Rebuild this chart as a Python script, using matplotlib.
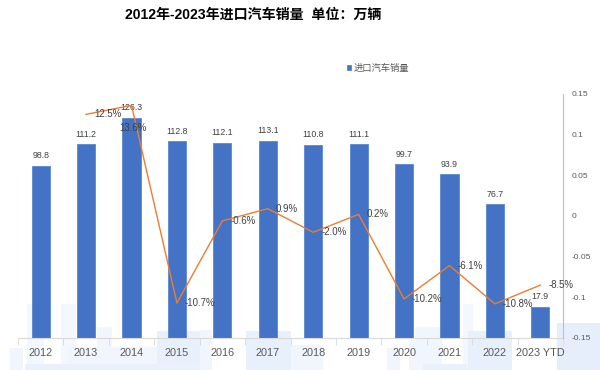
import numpy as np
import matplotlib
matplotlib.use('Agg')
import matplotlib.pyplot as plt
from matplotlib.patches import Rectangle
from matplotlib.ticker import FuncFormatter

plt.rcParams['font.family'] = ['Liberation Sans', 'Noto Sans CJK SC', 'DejaVu Sans']
plt.rcParams['axes.unicode_minus'] = False

# data
years = ['2012', '2013', '2014', '2015', '2016', '2017', '2018', '2019',
         '2020', '2021', '2022', '2023 YTD']
sales = [98.8, 111.2, 126.3, 112.8, 112.1, 113.1, 110.8, 111.1, 99.7, 93.9, 76.7, 17.9]
growth = [np.nan, 0.125, 0.136, -0.107, -0.006, 0.009, -0.020, 0.002,
          -0.102, -0.061, -0.108, -0.085]

bar_color = '#4472C4'
line_color = '#ED7D31'
text_color = '#404040'
axis_text = '#595959'

fig = plt.figure(figsize=(6, 3.7), dpi=100)

# faint background blocks (decoration at the bottom)
deco = [(27, 304, 44, '#f3f7fe'), (61, 304, 76, '#f3f7fe'), (97, 327, 112, '#f1f5fe'),
        (157, 331, 200, '#e8f0fc'), (10, 348, 23, '#f1f5fe'), (68, 347, 157, '#f1f5fe'),
        (25, 364, 200, '#eaf1fd'), (200, 330, 212, '#f1f5fe'), (246, 331, 291, '#e8f0fc'),
        (291, 345, 323, '#f1f5fe'), (387, 348, 400, '#f1f5fe'), (415, 327, 442, '#f1f5fe'),
        (463, 304, 473, '#f3f7fe'), (468, 331, 512, '#e8f0fc'), (557, 323, 600, '#e6eefc'),
        (423, 364, 467, '#eaf1fd'), (409, 340, 415, '#f1f5fe')]
for x0, y0, x1, c in deco:
    fig.patches.append(Rectangle((x0 / 600, 0), (x1 - x0) / 600, (370 - y0) / 370,
                                 transform=fig.transFigure, color=c, zorder=-5, lw=0))

ax = fig.add_axes([18 / 600, 32 / 370, 545 / 600, 244 / 370])
ax.set_zorder(2)
ax.patch.set_alpha(0)
x = np.arange(len(years))
bars = ax.bar(x, sales, width=0.4, color=bar_color, edgecolor='#5b86d0', linewidth=0.6,
              label='进口汽车销量', zorder=2)
for xi, v in zip(x, sales):
    ax.annotate(f'{v:.1f}', (xi, v), xytext=(0, 10), textcoords='offset pixels',
                ha='center', va='center', fontsize=6.3, color=text_color)

ax.set_xlim(-0.5, len(years) - 0.5)
ax.set_ylim(0, 140)
ax.set_yticks([])
ax.set_xticks(x)
ax.set_xticklabels(years)
ax.set_xticks(np.arange(-0.5, len(years), 1), minor=True)
ax.tick_params(axis='x', which='major', length=0, pad=7, labelsize=7.8, labelcolor=axis_text)
ax.tick_params(axis='x', which='minor', length=5, color='#d9d9d9')
for s in ['left', 'top', 'right']:
    ax.spines[s].set_visible(False)
ax.spines['bottom'].set_color('#d9d9d9')

ax2 = ax.twinx()
ax2.set_zorder(3)
ax2.patch.set_alpha(0)
ax2.plot(x, growth, color=line_color, lw=1.0, zorder=3)
ax2.set_ylim(-0.15, 0.15)
ax2.set_yticks([0.15, 0.1, 0.05, 0, -0.05, -0.1, -0.15])
ax2.yaxis.set_major_formatter(FuncFormatter(lambda v, p: f'{v:g}'))
ax2.tick_params(axis='y', length=0, pad=6.5, labelsize=6, labelcolor=axis_text)
for s in ['left', 'top', 'bottom']:
    ax2.spines[s].set_visible(False)
ax2.spines['right'].set_color('#bfbfbf')

for xi, g in zip(x, growth):
    if np.isnan(g):
        continue
    off = (-12, -23) if xi == 2 else (8, 0)
    ax2.annotate(f'{g * 100:.1f}%', (xi, g), xytext=off, textcoords='offset pixels',
                 ha='left', va='center', fontsize=6.9, color=text_color)

ax.legend(loc='center', bbox_to_anchor=(378 / 600, 1 - 68 / 370), bbox_transform=fig.transFigure,
          frameon=False, fontsize=6.7, handlelength=0.5, handleheight=0.5, handletextpad=0.3,
          labelcolor=axis_text)

fig.text(253.5 / 600, 1 - 15 / 370, '2012年-2023年进口汽车销量  单位：万辆', ha='center', va='center',
         fontsize=10.1, fontweight='bold', color='black')

fig.savefig('out.png', dpi=100)
